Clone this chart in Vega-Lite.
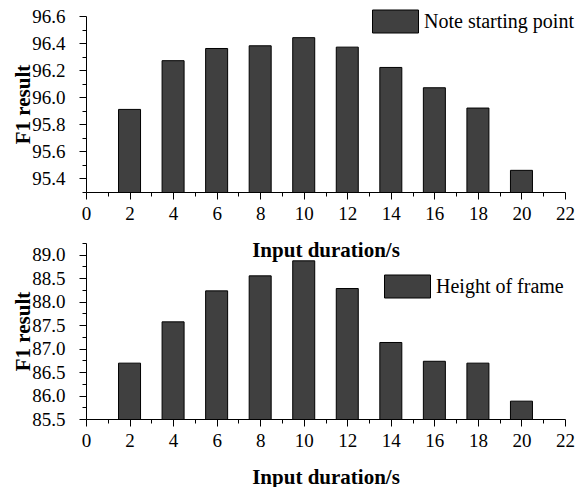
{
  "$schema": "https://vega.github.io/schema/vega-lite/v6.json",
  "background": "white",
  "padding": {"left": 12, "top": -2, "right": 0, "bottom": 0},
  "spacing": 51,
  "bounds": "flush",
  "datasets": {
    "note": [
      {"duration": 2, "f1": 95.91, "series": "Note starting point"},
      {"duration": 4, "f1": 96.27, "series": "Note starting point"},
      {"duration": 6, "f1": 96.36, "series": "Note starting point"},
      {"duration": 8, "f1": 96.38, "series": "Note starting point"},
      {"duration": 10, "f1": 96.44, "series": "Note starting point"},
      {"duration": 12, "f1": 96.37, "series": "Note starting point"},
      {"duration": 14, "f1": 96.22, "series": "Note starting point"},
      {"duration": 16, "f1": 96.07, "series": "Note starting point"},
      {"duration": 18, "f1": 95.92, "series": "Note starting point"},
      {"duration": 20, "f1": 95.46, "series": "Note starting point"}
    ],
    "frame": [
      {"duration": 2, "f1": 86.69, "series": "Height of frame"},
      {"duration": 4, "f1": 87.57, "series": "Height of frame"},
      {"duration": 6, "f1": 88.23, "series": "Height of frame"},
      {"duration": 8, "f1": 88.55, "series": "Height of frame"},
      {"duration": 10, "f1": 88.87, "series": "Height of frame"},
      {"duration": 12, "f1": 88.28, "series": "Height of frame"},
      {"duration": 14, "f1": 87.13, "series": "Height of frame"},
      {"duration": 16, "f1": 86.73, "series": "Height of frame"},
      {"duration": 18, "f1": 86.69, "series": "Height of frame"},
      {"duration": 20, "f1": 85.88, "series": "Height of frame"}
    ]
  },
  "config": {
    "view": {"stroke": null},
    "axis": {
      "grid": false,
      "domainColor": "black",
      "tickColor": "black",
      "labelColor": "black",
      "titleColor": "black",
      "labelFont": "Liberation Serif",
      "labelFontSize": 19,
      "titleFont": "Liberation Serif",
      "titleFontSize": 21,
      "titleFontWeight": "bold",
      "labelOverlap": false,
      "labelFlush": false
    },
    "legend": {
      "labelFont": "Liberation Serif",
      "labelFontSize": 20,
      "labelColor": "black",
      "symbolStrokeColor": "black",
      "symbolStrokeWidth": 1,
      "symbolOpacity": 1,
      "symbolType": "M-1,-0.5H1V0.5H-1Z",
      "symbolSize": 2116,
      "labelOffset": 5,
      "padding": 0,
      "title": null
    }
  },
  "resolve": {"scale": {"fill": "independent"}},
  "vconcat": [
    {
      "width": 479,
      "height": 176,
      "data": {"name": "note"},
      "mark": {"type": "bar", "size": 22, "stroke": "black", "strokeWidth": 1, "clip": true},
      "encoding": {
        "x": {
          "field": "duration", "type": "quantitative",
          "scale": {"domain": [0, 22], "nice": false, "zero": false, "padding": 0},
          "axis": {
            "title": "Input duration/s",
            "values": [0,1,2,3,4,5,6,7,8,9,10,11,12,13,14,15,16,17,18,19,20,21,22],
            "labelExpr": "datum.value % 2 == 0 ? datum.label : ''",
            "tickSize": {"condition": {"test": "datum.value % 2 == 0", "value": 7}, "value": 4},
            "labelFont": "Liberation Serif",
            "labelFontSize": 19,
            "labelPadding": 5,
            "titlePadding": 16
          }
        },
        "y": {
          "field": "f1", "type": "quantitative",
          "scale": {"domain": [95.3, 96.6], "nice": false, "zero": false},
          "axis": {
            "title": "F1 result",
            "format": ".1f",
            "values": [95.3,95.4,95.5,95.6,95.7,95.8,95.9,96.0,96.1,96.2,96.3,96.4,96.5,96.6],
            "labelExpr": "round(datum.value*10) % 2 == 0 ? datum.label : ''",
            "tickSize": {"condition": {"test": "round(datum.value*10) % 2 == 0", "value": 7}, "value": 4},
            "labelFont": "Liberation Serif",
            "labelFontSize": 19,
            "labelPadding": 14,
            "titlePadding": -2
          }
        },
        "fill": {
          "field": "series", "type": "nominal",
          "scale": {"range": ["#404040"]},
          "legend": {"orient": "none", "legendX": 286, "legendY": -18}
        }
      }
    },
    {
      "width": 479,
      "height": 176,
      "data": {"name": "frame"},
      "mark": {"type": "bar", "size": 22, "stroke": "black", "strokeWidth": 1, "clip": true},
      "encoding": {
        "x": {
          "field": "duration", "type": "quantitative",
          "scale": {"domain": [0, 22], "nice": false, "zero": false, "padding": 0},
          "axis": {
            "title": "Input duration/s",
            "values": [0,1,2,3,4,5,6,7,8,9,10,11,12,13,14,15,16,17,18,19,20,21,22],
            "labelExpr": "datum.value % 2 == 0 ? datum.label : ''",
            "tickSize": {"condition": {"test": "datum.value % 2 == 0", "value": 7}, "value": 4},
            "labelFont": "Liberation Serif",
            "labelFontSize": 19,
            "labelPadding": 5,
            "titlePadding": 16
          }
        },
        "y": {
          "field": "f1", "type": "quantitative",
          "scale": {"domain": [85.5, 89.25], "nice": false, "zero": false},
          "axis": {
            "title": "F1 result",
            "format": ".1f",
            "values": [85.5,85.75,86.0,86.25,86.5,86.75,87.0,87.25,87.5,87.75,88.0,88.25,88.5,88.75,89.0,89.25],
            "labelExpr": "round(datum.value*4) % 2 == 0 ? datum.label : ''",
            "tickSize": {"condition": {"test": "round(datum.value*4) % 2 == 0", "value": 7}, "value": 4},
            "labelFont": "Liberation Serif",
            "labelFontSize": 19,
            "labelPadding": 14,
            "titlePadding": -2
          }
        },
        "fill": {
          "field": "series", "type": "nominal",
          "scale": {"range": ["#404040"]},
          "legend": {"orient": "none", "legendX": 298, "legendY": 20}
        }
      }
    }
  ]
}
